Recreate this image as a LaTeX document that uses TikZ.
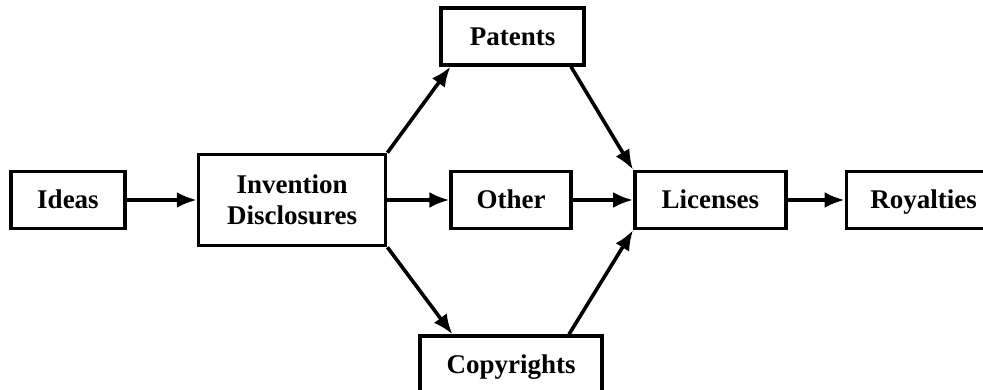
\documentclass[tikz,border=0pt]{standalone}
\usepackage{fontspec}
\setmainfont{Liberation Serif}
\usetikzlibrary{positioning,arrows.meta}
\tikzset{
  blk/.style={draw=black, line width=3.6pt, fill=white, align=center,
    inner sep=4pt, minimum height=57pt},
  one/.style={blk, text height=18pt, text depth=0pt},
  arr/.style={-{Latex[length=20pt,width=16pt]}, line width=3.6pt},
}

\begin{document}
\begin{tikzpicture}[x=1pt, y=1pt, font=\bfseries\fontsize{27pt}{31pt}\selectfont]
    \useasboundingbox (0,0) rectangle (983,390);
    \node[one, minimum width=114pt] (ideas) at (68,190) {Ideas};
    \node[blk, minimum width=187pt, minimum height=91pt, right=70pt of ideas] (disc)
      {Invention\\Disclosures};
    \node[one, minimum width=120pt, right=62pt of disc] (other) {Other};
    \node[one, minimum width=143pt, above=103pt of other, xshift=1.5pt] (pat) {Patents};
    \node[one, minimum width=182pt, below=104pt of other] (copy) {Copyrights};
    \node[one, minimum width=151pt, right=60pt of other] (lic) {Licenses};
    \node[one, text width=112pt, inner xsep=24pt, align=left, right=57pt of lic] (roy) {Royalties};
    \draw[arr] (ideas) -- (disc);
    \draw[arr] (disc.north east) -- ([xshift=11pt]pat.south west);
    \draw[arr] (disc) -- (other);
    \draw[arr] (disc.south east) -- ([xshift=34pt]copy.north west);
    \draw[arr] ([xshift=-15pt]pat.south east) -- (lic.north west);
    \draw[arr] (other) -- (lic);
    \draw[arr] ([xshift=-35pt]copy.north east) -- (lic.south west);
    \draw[arr] (lic) -- (roy);
  \end{tikzpicture}
\end{document}
